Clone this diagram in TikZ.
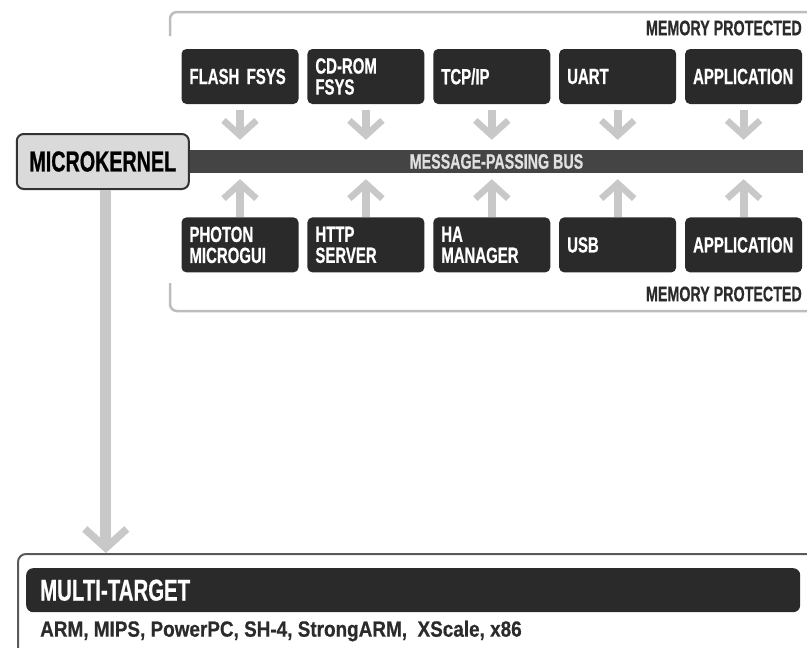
\documentclass[tikz,border=0pt]{standalone}
\usepackage{fontspec}
\newfontfamily\condfont{Liberation Sans}[FakeStretch=0.68,FakeBold=0.6]
\newfontfamily\condwide{Liberation Sans}[FakeStretch=0.86,FakeBold=0.6]
\usetikzlibrary{arrows.meta,positioning}
\definecolor{boxDark}{HTML}{2A2A2A}
\definecolor{busDark}{HTML}{444444}
\definecolor{arrowGray}{HTML}{C8C8C8}
\definecolor{kernelGray}{HTML}{DADADA}
\definecolor{frameGray}{HTML}{BDBDBD}
\definecolor{labelInk}{HTML}{2B2B2B}
\tikzset{
  svcbox/.style={fill=boxDark, rounded corners=5pt, text=white, text width=101pt, inner xsep=8pt, inner ysep=0pt,
    minimum height=55pt, align=left, font=\condfont\bfseries\fontsize{22}{21}\selectfont},
  flow/.style={draw=arrowGray, line width=8pt, -{Straight Barb[length=15pt,width=33pt,line width=6.5pt,sharp]}},
  memlabel/.style={anchor=east, inner sep=0pt, text=labelInk, font=\condfont\bfseries\fontsize{21}{21}\selectfont},
  bracket/.style={draw=frameGray, line width=2.5pt, rounded corners=7pt}
}

\begin{document}
\begin{tikzpicture}[x=1pt,y=-1pt]
\useasboundingbox (0,0) rectangle (807,648);
\draw[bracket] (170,36) -- (170,12) -- (815,12);
\draw[bracket] (170,283) -- (170,311) -- (815,311);
\node[memlabel] (memtop) at (802,28) {MEMORY PROTECTED};
\node[memlabel] (membot) at (802,294) {MEMORY PROTECTED};

\node[svcbox] (flash) at (240,76.5) {FLASH FSYS};
\node[svcbox, right=8.5pt of flash] (cdrom) {CD-ROM\\FSYS};
\node[svcbox, right=8.5pt of cdrom] (tcpip) {TCP/IP};
\node[svcbox, right=8.5pt of tcpip] (uart) {UART};
\node[svcbox, right=8.5pt of uart] (apptop) {APPLICATION};

\node[svcbox, below=113pt of flash] (photon) {PHOTON\\MICROGUI};
\node[svcbox, right=8.5pt of photon] (http) {HTTP\\SERVER};
\node[svcbox, right=8.5pt of http] (hamgr) {HA\\MANAGER};
\node[svcbox, right=8.5pt of hamgr] (usb) {USB};
\node[svcbox, right=8.5pt of usb] (appbot) {APPLICATION};

\node[fill=busDark, minimum width=613pt, minimum height=23pt, inner sep=0pt, text=white!88!black,
  font=\condfont\bfseries\fontsize{21}{21}\selectfont] (bus) at (496.5,161.5) {MESSAGE-PASSING BUS};
\node[left=0pt of bus, fill=kernelGray, draw=black!80, line width=2pt, rounded corners=7pt,
  minimum width=172pt, minimum height=55pt, font=\condfont\bfseries\fontsize{29}{29}\selectfont] (kernel) {MICROKERNEL};

\foreach \svc in {flash,cdrom,tcpip,uart,apptop}
  \draw[flow, shorten <=6pt, shorten >=10pt] (\svc) -- (\svc |- bus.north);
\foreach \svc in {photon,http,hamgr,usb,appbot}
  \draw[flow, shorten <=0pt, shorten >=6pt] (\svc) -- (\svc |- bus.south);

\node[anchor=north west, draw=black!65, line width=2pt, rounded corners=8pt, minimum width=820pt, minimum height=130pt] (target) at (17,553) {};
\node[anchor=north west, fill=boxDark, rounded corners=7pt, text=white, minimum width=774pt, minimum height=44pt,
  text width=746pt, inner xsep=14pt, align=left, font=\condfont\bfseries\fontsize{30}{30}\selectfont] (multi) at (26,568) {MULTI-TARGET};
\node[anchor=west, inner sep=0pt, text=labelInk, font=\condwide\bfseries\fontsize{22}{22}\selectfont] (archs) at (40,631)
  {ARM, MIPS, PowerPC, SH-4, StrongARM,\ \ XScale, x86};
\draw[draw=arrowGray, line width=11pt, -{Straight Barb[length=19pt,width=42pt,line width=7.5pt,sharp]}]
  ([xshift=3pt]kernel.south) -- ([xshift=3pt]kernel.south |- target.north);
\end{tikzpicture}
\end{document}
